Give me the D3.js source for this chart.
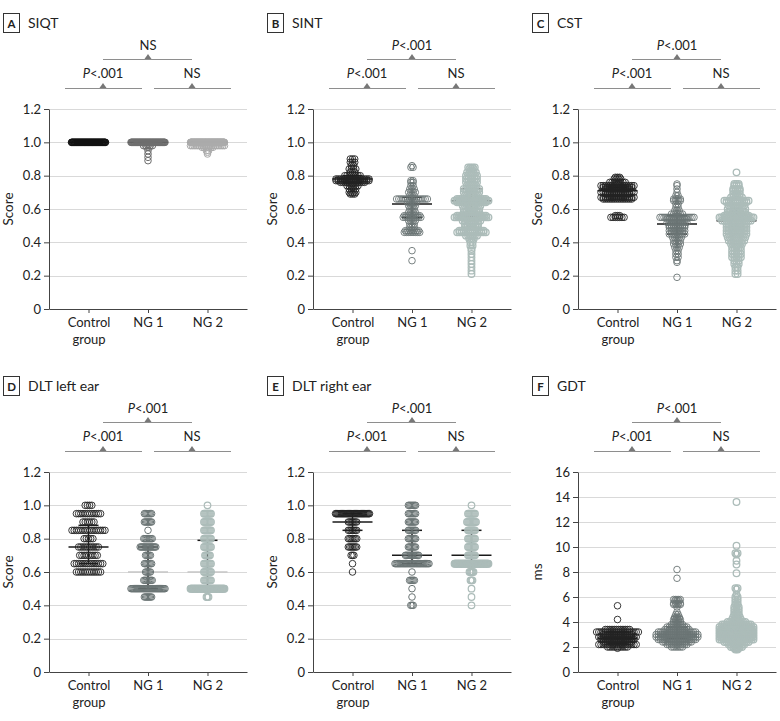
<!DOCTYPE html>
<html><head><meta charset="utf-8">
<script src="https://cdn.jsdelivr.net/npm/d3@7"></script>
<style>body{margin:0;background:#fff} svg text{font-family:Lato,"Open Sans",sans-serif;fill:#222}</style>
</head><body><svg id="c" width="780" height="721"></svg>
<script>
// ---------- categories & ticks ----------
const groups = ["Control group", "NG 1", "NG 2"];
const scoreTicks = [0, 0.2, 0.4, 0.6, 0.8, 1.0, 1.2];
const scoreTickLabels = ["0", "0.2", "0.4", "0.6", "0.8", "1.0", "1.2"];
const msTicks = [0, 2, 4, 6, 8, 10, 12, 14, 16];
const msTickLabels = ["0", "2", "4", "6", "8", "10", "12", "14", "16"];
const panelLetters = ["A", "B", "C", "D", "E", "F"];
const panelTitles = ["SIQT", "SINT", "CST", "DLT left ear", "DLT right ear", "GDT"];
const yAxisLabels = ["Score", "Score", "Score", "Score", "Score", "ms"];
// [top comparison (control vs NG2), control vs NG1, NG1 vs NG2]
const siqtTests = ["NS", "P<.001", "NS"];
const sintTests = ["P<.001", "P<.001", "NS"];
const cstTests = ["P<.001", "P<.001", "NS"];
const dltLeftTests = ["P<.001", "P<.001", "NS"];
const dltRightTests = ["P<.001", "P<.001", "NS"];
const gdtTests = ["P<.001", "P<.001", "NS"];

// ---------- data: [value, number of participants] ----------
const siqtControl = [[1.00, 60]];
const siqtNg1 = [[1.00, 60], [0.98, 5], [0.97, 2], [0.95, 1], [0.93, 1], [0.91, 1], [0.89, 1]];
const siqtNg2 = [[1.00, 80], [0.98, 20], [0.97, 6], [0.95, 2], [0.94, 1], [0.93, 1]];

const sintControl = [[0.90, 3], [0.88, 3], [0.86, 2], [0.84, 4], [0.82, 3], [0.80, 8], [0.78, 16], [0.77, 16], [0.76, 12], [0.74, 6], [0.72, 4], [0.70, 4], [0.69, 3]];
const sintNg1 = [[0.86, 1], [0.85, 2], [0.77, 2], [0.76, 2], [0.74, 2], [0.72, 3], [0.70, 4], [0.68, 3], [0.66, 15], [0.64, 5], [0.62, 4], [0.60, 3], [0.58, 4], [0.56, 8], [0.55, 9], [0.53, 4], [0.51, 3], [0.49, 3], [0.47, 7], [0.46, 8], [0.35, 1], [0.29, 1]];
const sintNg2 = [[0.85, 4], [0.84, 3], [0.82, 5], [0.80, 6], [0.78, 6], [0.76, 6], [0.74, 5], [0.72, 8], [0.70, 8], [0.68, 7], [0.66, 14], [0.65, 22], [0.64, 14], [0.62, 9], [0.60, 8], [0.58, 8], [0.56, 14], [0.55, 18], [0.53, 9], [0.51, 7], [0.49, 7], [0.47, 12], [0.46, 14], [0.44, 6], [0.42, 3], [0.40, 2], [0.38, 2], [0.36, 1], [0.35, 1], [0.33, 1], [0.31, 1], [0.29, 1], [0.27, 1], [0.25, 1], [0.23, 1], [0.21, 1]];

const cstControl = [[0.79, 3], [0.78, 4], [0.76, 8], [0.74, 16], [0.73, 14], [0.72, 12], [0.70, 16], [0.69, 12], [0.67, 16], [0.66, 14], [0.56, 3], [0.55, 7]];
const cstNg1 = [[0.75, 1], [0.74, 1], [0.72, 1], [0.70, 1], [0.68, 2], [0.66, 4], [0.65, 4], [0.63, 2], [0.61, 2], [0.59, 3], [0.57, 6], [0.55, 18], [0.54, 10], [0.52, 10], [0.50, 8], [0.49, 8], [0.47, 8], [0.45, 8], [0.43, 5], [0.41, 4], [0.39, 4], [0.37, 3], [0.35, 2], [0.33, 2], [0.31, 2], [0.29, 1], [0.28, 1], [0.19, 1]];
const cstNg2 = [[0.82, 1], [0.75, 3], [0.74, 3], [0.72, 4], [0.71, 4], [0.69, 4], [0.67, 6], [0.65, 12], [0.64, 10], [0.62, 8], [0.60, 9], [0.58, 9], [0.56, 12], [0.55, 20], [0.53, 14], [0.51, 10], [0.49, 10], [0.47, 10], [0.45, 10], [0.43, 9], [0.41, 8], [0.39, 6], [0.37, 5], [0.35, 5], [0.33, 5], [0.31, 5], [0.29, 3], [0.27, 3], [0.25, 2], [0.23, 2], [0.21, 2]];

const dltLeftControl = [[1.00, 4], [0.95, 12], [0.90, 6], [0.85, 16], [0.80, 5], [0.75, 10], [0.70, 9], [0.65, 14], [0.60, 12]];
const dltLeftNg1 = [[0.95, 7], [0.90, 7], [0.85, 1], [0.80, 8], [0.75, 14], [0.70, 5], [0.65, 7], [0.60, 5], [0.55, 8], [0.50, 32], [0.45, 7]];
const dltLeftNg2 = [[1.00, 1], [0.95, 8], [0.90, 8], [0.85, 8], [0.80, 8], [0.75, 8], [0.70, 6], [0.65, 8], [0.60, 8], [0.55, 8], [0.50, 60], [0.45, 3]];

const dltRightControl = [[0.95, 40], [0.90, 7], [0.85, 7], [0.80, 7], [0.75, 7], [0.70, 3], [0.65, 1], [0.60, 1]];
const dltRightNg1 = [[1.00, 7], [0.95, 7], [0.90, 7], [0.85, 7], [0.80, 7], [0.75, 7], [0.70, 12], [0.65, 30], [0.60, 1], [0.55, 5], [0.50, 1], [0.45, 1], [0.40, 3]];
const dltRightNg2 = [[1.00, 1], [0.95, 8], [0.90, 10], [0.85, 8], [0.80, 8], [0.75, 8], [0.70, 8], [0.65, 60], [0.60, 5], [0.55, 3], [0.50, 1], [0.45, 1], [0.40, 1]];

const gdtControl = [[5.3, 1], [4.2, 1], [3.4, 12], [3.2, 20], [3.0, 14], [2.8, 18], [2.6, 16], [2.4, 14], [2.2, 18], [2.0, 10], [1.9, 1]];
const gdtNg1 = [[8.2, 1], [7.5, 1], [5.8, 4], [5.7, 3], [5.5, 4], [5.4, 4], [5.2, 1], [4.8, 1], [4.6, 2], [4.4, 3], [4.3, 3], [4.2, 4], [4.0, 4], [3.8, 6], [3.6, 10], [3.4, 12], [3.2, 18], [3.0, 20], [2.8, 20], [2.6, 18], [2.4, 14], [2.2, 10], [2.0, 6]];
const gdtNg2 = [[13.6, 1], [10.1, 1], [9.5, 2], [9.4, 1], [8.9, 1], [8.6, 1], [7.9, 1], [6.7, 2], [6.6, 1], [6.2, 1], [6.0, 2], [5.8, 2], [5.6, 2], [5.4, 2], [5.2, 3], [5.0, 3], [4.8, 3], [4.6, 3], [4.4, 4], [4.2, 5], [4.0, 9], [3.8, 14], [3.6, 18], [3.4, 24], [3.2, 30], [3.0, 30], [2.8, 24], [2.6, 18], [2.4, 12], [2.2, 8], [2.0, 6], [1.9, 3], [1.8, 2]];

// ---------- medians and interquartile ranges [control, NG1, NG2] ----------
const siqtMedian = [1, 1, 1], siqtQ1 = [1, 1, 1], siqtQ3 = [1, 1, 1];
const sintMedian = [0.78, 0.63, 0.65], sintQ1 = [0.76, 0.55, 0.55], sintQ3 = [0.80, 0.67, 0.72];
const cstMedian = [0.71, 0.51, 0.53], cstQ1 = [0.66, 0.45, 0.45], cstQ3 = [0.73, 0.56, 0.60];
const dltLeftMedian = [0.75, 0.60, 0.60], dltLeftQ1 = [0.65, 0.50, 0.50], dltLeftQ3 = [0.88, 0.75, 0.79];
const dltRightMedian = [0.90, 0.70, 0.70], dltRightQ1 = [0.85, 0.65, 0.65], dltRightQ3 = [0.95, 0.85, 0.85];
const gdtMedian = [2.7, 3.0, 3.2], gdtQ1 = [2.3, 2.7, 2.8], gdtQ3 = [3.2, 3.6, 3.6];

// ---------- assemble (styles per panel) ----------
const colorsA = ["#111111", "#6e6e6e", "#ababab"];
const colorsB = ["#222222", "#6b7575", "#acbcb9"];
const dark = "#1a1a1a";
const panels = [
  {data: [siqtControl, siqtNg1, siqtNg2], med: siqtMedian, q1: siqtQ1, q3: siqtQ3, tests: siqtTests, ticks: scoreTicks, labels: scoreTickLabels, max: 1.2, colors: colorsA, caps: [34, 34, 34], dxs: [2.2, 2.2, 2.2], sw: [1, 1, 1], medColors: [dark, dark, dark]},
  {data: [sintControl, sintNg1, sintNg2], med: sintMedian, q1: sintQ1, q3: sintQ3, tests: sintTests, ticks: scoreTicks, labels: scoreTickLabels, max: 1.2, colors: colorsB, caps: [34, 34, 34], dxs: [2.2, 2.2, 2.2], sw: [0.9, 0.9, 1.3], medColors: [dark, dark, dark]},
  {data: [cstControl, cstNg1, cstNg2], med: cstMedian, q1: cstQ1, q3: cstQ3, tests: cstTests, ticks: scoreTicks, labels: scoreTickLabels, max: 1.2, colors: colorsB, caps: [34, 34, 34], dxs: [2.2, 2.2, 2.2], sw: [0.9, 0.9, 1.3], medColors: [dark, dark, dark]},
  {data: [dltLeftControl, dltLeftNg1, dltLeftNg2], med: dltLeftMedian, q1: dltLeftQ1, q3: dltLeftQ3, tests: dltLeftTests, ticks: scoreTicks, labels: scoreTickLabels, max: 1.2, colors: colorsB, caps: [34, 34, 34], dxs: [2.2, 1.2, 1.0], sw: [0.9, 1, 1.2], medColors: [dark, "#c6c6c6", "#c6c6c6"]},
  {data: [dltRightControl, dltRightNg1, dltRightNg2], med: dltRightMedian, q1: dltRightQ1, q3: dltRightQ3, tests: dltRightTests, ticks: scoreTicks, labels: scoreTickLabels, max: 1.2, colors: colorsB, caps: [34, 34, 34], dxs: [1.4, 1.2, 1.0], sw: [0.9, 1, 1.2], medColors: [dark, dark, dark]},
  {data: [gdtControl, gdtNg1, gdtNg2], med: gdtMedian, q1: gdtQ1, q3: gdtQ3, tests: gdtTests, ticks: msTicks, labels: msTickLabels, max: 16, colors: colorsB, caps: [44, 44, 34], dxs: [2.2, 2.2, 2.2], sw: [0.9, 0.9, 1.3], medColors: [dark, dark, dark]}
];

const svg = d3.select("#c");
const axisXs = [49, 313, 578], rowOffsets = [0, 363];
const W = 198, R = 3.3;

function sigText(sel, str) {
  if (str.startsWith("P")) {
    sel.append("tspan").attr("font-style", "italic").text("P");
    sel.append("tspan").text(str.slice(1));
  } else sel.text(str);
}

panels.forEach((p, i) => {
  const ax = axisXs[i % 3], off = rowOffsets[Math.floor(i / 3)];
  const top = off + 109, bottom = off + 309;
  const x = d3.scalePoint().domain(groups).range([ax, ax + W]).padding(0.664);
  const y = d3.scaleLinear().domain([0, p.max]).range([bottom, top]);
  const g = svg.append("g");

  // panel label & title
  g.append("rect").attr("x", ax - 45.5).attr("y", off + 13.5).attr("width", 16).attr("height", 19)
    .attr("fill", "none").attr("stroke", "#333").attr("stroke-width", 1);
  g.append("text").attr("x", ax - 37.5).attr("y", off + 28).attr("text-anchor", "middle")
    .attr("font-size", 11.5).attr("font-weight", "bold").text(panelLetters[i]);
  g.append("text").attr("x", ax - 21).attr("y", off + 28.3).attr("font-size", 14).text(panelTitles[i]);

  // significance brackets
  const br = [
    {x1: ax + 54, x2: ax + 143, tx: ax + 99, ly: off + 59, ty: off + 50, s: p.tests[0]},
    {x1: ax + 16, x2: ax + 93, tx: ax + 54, ly: off + 88, ty: off + 78, s: p.tests[1]},
    {x1: ax + 105, x2: ax + 182, tx: ax + 143, ly: off + 88, ty: off + 78, s: p.tests[2]}
  ];
  br.forEach(b => {
    g.append("line").attr("x1", b.x1).attr("x2", b.x2).attr("y1", b.ly + 0.5).attr("y2", b.ly + 0.5)
      .attr("stroke", "#8e8e8e").attr("stroke-width", 1);
    g.append("path").attr("d", `M${b.tx - 3.5},${b.ly}L${b.tx + 3.5},${b.ly}L${b.tx},${b.ly - 5}Z`).attr("fill", "#777");
    const t = g.append("text").attr("x", b.tx).attr("y", b.ty).attr("text-anchor", "middle").attr("font-size", 13);
    sigText(t, b.s);
  });

  // gridlines
  g.append("g").selectAll("line").data(p.ticks.filter(t => t > 0)).join("line")
    .attr("x1", ax).attr("x2", ax + W).attr("y1", d => Math.round(y(d)) + 0.5).attr("y2", d => Math.round(y(d)) + 0.5)
    .attr("stroke", "#d9d9d9").attr("stroke-width", 1);

  // median & IQR (behind points)
  groups.forEach((gr, gi) => {
    const cx = x(gr);
    const s = g.append("g").attr("stroke", dark).attr("stroke-width", 1.5);
    s.append("line").attr("x1", cx).attr("x2", cx).attr("y1", y(p.q1[gi])).attr("y2", y(p.q3[gi]));
    s.append("line").attr("x1", cx - 10).attr("x2", cx + 10).attr("y1", y(p.q1[gi])).attr("y2", y(p.q1[gi]));
    s.append("line").attr("x1", cx - 10).attr("x2", cx + 10).attr("y1", y(p.q3[gi])).attr("y2", y(p.q3[gi]));
    s.append("line").attr("x1", cx - 20).attr("x2", cx + 20).attr("y1", y(p.med[gi])).attr("y2", y(p.med[gi]))
      .attr("stroke", p.medColors[gi]);
  });

  // points
  p.data.forEach((rows, gi) => {
    const cx = x(groups[gi]);
    const pts = [];
    rows.forEach(([v, n]) => {
      const spread = Math.min((n - 1) * p.dxs[gi], p.caps[gi]);
      for (let k = 0; k < n; k++) pts.push({x: n > 1 ? cx - spread / 2 + k * spread / (n - 1) : cx, y: y(v)});
    });
    g.append("g").selectAll("circle").data(pts).join("circle")
      .attr("cx", d => d.x).attr("cy", d => d.y).attr("r", R)
      .attr("fill", "none").attr("stroke", p.colors[gi]).attr("stroke-width", p.sw[gi]);
  });

  // y axis
  const ya = g.append("g").attr("transform", `translate(${ax},0)`)
    .call(d3.axisLeft(y).tickValues(p.ticks).tickFormat((d, k) => p.labels[k]).tickSize(5).tickSizeOuter(0).tickPadding(3));
  ya.attr("font-family", null).attr("font-size", 13);
  ya.selectAll("path,line").attr("stroke", "#444");
  ya.selectAll("text").attr("fill", "#222");

  // x axis
  const xa = g.append("g").attr("transform", `translate(0,${bottom})`)
    .call(d3.axisBottom(x).tickSize(4).tickSizeOuter(0).tickPadding(5));
  xa.attr("font-family", null).attr("font-size", 13);
  xa.selectAll("path,line").attr("stroke", "#444");
  xa.selectAll(".tick text").attr("fill", "#222").each(function(d) {
    const words = d === "Control group" ? ["Control", "group"] : [d];
    const t = d3.select(this).text(null);
    words.forEach((w, wi) => t.append("tspan").attr("x", 0).attr("dy", wi === 0 ? "0.71em" : "1.3em").text(w));
  }).attr("dy", null);

  // y label
  g.append("text").attr("transform", `translate(${ax - 36},${(top + bottom) / 2}) rotate(-90)`)
    .attr("text-anchor", "middle").attr("font-size", 13.5).text(yAxisLabels[i]);
});
</script></body></html>
